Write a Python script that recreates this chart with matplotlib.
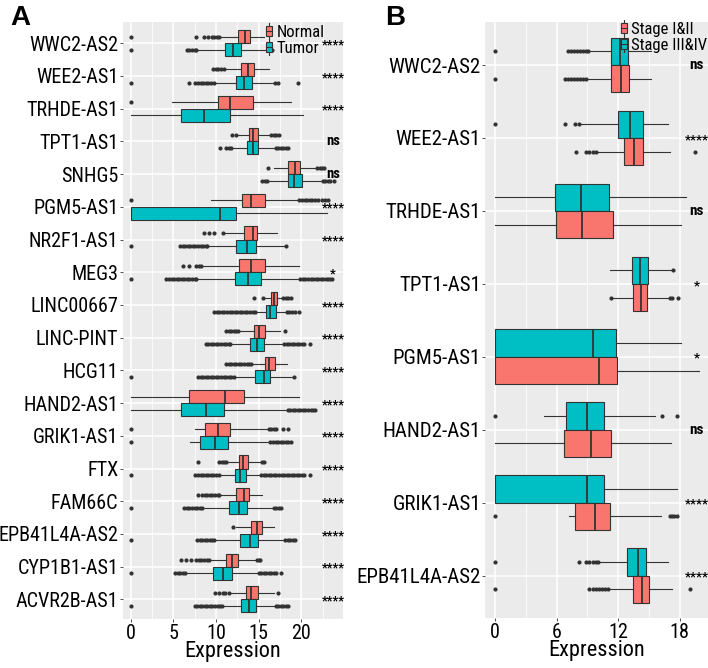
import matplotlib
matplotlib.use('Agg')
import matplotlib.pyplot as plt
import matplotlib.transforms as mtransforms
from matplotlib.legend_handler import HandlerBase
from matplotlib.patches import Rectangle, Patch
from matplotlib.lines import Line2D

plt.rcParams['font.family'] = ['Roboto Condensed', 'DejaVu Sans']

RED = '#F8766D'
TEAL = '#00BFC4'
EDGE = '#333333'
PANEL = '#EBEBEB'

# ---------- panel A: Normal vs Tumor ----------
A_genes = ['WWC2-AS2', 'WEE2-AS1', 'TRHDE-AS1', 'TPT1-AS1', 'SNHG5', 'PGM5-AS1',
           'NR2F1-AS1', 'MEG3', 'LINC00667', 'LINC-PINT', 'HCG11', 'HAND2-AS1',
           'GRIK1-AS1', 'FTX', 'FAM66C', 'EPB41L4A-AS2', 'CYP1B1-AS1', 'ACVR2B-AS1']
A_sig = ['****', '****', '****', 'ns', 'ns', '****', '****', '*', '****', '****',
         '****', '****', '****', '****', '****', '****', '****', '****']

A_normal_q1 = [12.6, 13.0, 10.2, 13.9, 18.5, 13.1, 13.3, 12.7, 16.5, 14.5, 15.7, 6.8, 8.7, 12.7, 12.3, 14.1, 11.2, 13.5]
A_normal_med = [13.4, 13.8, 11.7, 14.4, 19.3, 14.1, 14.4, 14.1, 16.8, 15.0, 16.2, 11.1, 10.3, 13.2, 13.3, 14.8, 11.9, 14.1]
A_normal_q3 = [14.0, 14.5, 14.3, 14.9, 19.9, 15.7, 14.8, 15.7, 17.2, 15.7, 16.9, 13.3, 11.7, 13.8, 13.9, 15.35, 12.6, 14.9]
A_normal_lo = [10.5, 11.1, 4.9, 12.4, 16.8, 9.4, 11.0, 8.4, 15.6, 12.7, 14.2, 0.0, 7.5, 11.3, 10.5, 12.3, 9.3, 11.6]
A_normal_hi = [15.6, 16.2, 18.8, 16.4, 21.8, 19.7, 17.2, 19.7, 17.75, 17.5, 18.3, 19.7, 16.1, 15.2, 15.4, 16.8, 14.65, 16.8]
A_normal_out = [
    [0, 7.7, 8.6, 9.1, 9.5, 9.8, 10.1, 10.4],
    [9.7, 10.0, 10.3, 10.6, 11.0],
    [0],
    [11.9, 12.3, 16.5, 16.8, 17.1, 17.4],
    [16.1, 21.9, 22.2, 22.4, 22.7],
    [0, 19.8, 20.1, 20.4, 20.7, 21.0, 21.3, 21.6, 22.0, 22.4, 22.8, 23.2],
    [8.6, 9.2, 9.8, 10.8],
    [6.2, 6.8, 7.7, 8.0, 8.3],
    [14.5, 15.5, 17.9, 18.2, 18.5, 18.8],
    [11.2, 11.5, 11.8, 12.1, 12.4, 12.6, 18.1],
    [11.2, 11.5, 11.8, 12.1, 12.4, 12.7, 13.0, 13.3, 13.6, 13.9, 14.1],
    [],
    [0, 16.2, 16.5, 16.8, 17.0, 17.9, 18.4],
    [7.9, 10.4, 10.7, 11.0, 11.2, 15.4, 15.6],
    [7.9, 8.4, 8.7, 9.0, 9.3, 9.6, 9.9, 10.2, 10.4],
    [12.0],
    [5.9, 6.5, 7.1, 7.7, 8.0, 8.3, 8.6, 8.9, 9.2, 14.8, 15.0, 15.2],
    [9.9, 10.4, 10.8, 11.1, 11.5, 17.3],
]

A_tumor_q1 = [11.05, 12.4, 5.85, 13.7, 18.4, 0.0, 12.3, 12.2, 15.9, 14.0, 14.6, 5.9, 8.1, 12.2, 11.5, 12.8, 9.7, 13.0]
A_tumor_med = [12.0, 13.3, 8.6, 14.3, 19.2, 10.5, 13.6, 13.8, 16.3, 14.8, 15.6, 8.8, 9.9, 12.8, 12.7, 13.95, 10.8, 13.9]
A_tumor_q3 = [13.0, 14.2, 11.6, 14.9, 20.1, 12.3, 14.65, 15.3, 17.0, 15.6, 16.3, 11.0, 11.4, 13.5, 13.6, 14.9, 11.9, 14.65]
A_tumor_lo = [7.8, 9.9, 0.0, 11.9, 16.1, 0.0, 9.1, 7.8, 14.7, 11.8, 12.2, 0.0, 7.0, 10.5, 8.5, 9.9, 6.5, 10.8]
A_tumor_hi = [16.0, 16.8, 20.2, 16.9, 22.4, 23.0, 18.1, 19.8, 18.2, 17.9, 19.1, 18.3, 16.3, 15.2, 16.7, 18.0, 14.9, 16.9]
A_tumor_out = [
    [0, 6.6, 6.9, 7.2, 7.5, 7.7, 16.1, 16.3, 16.6],
    [0, 6.9, 7.6, 7.9, 8.2, 8.5, 8.8, 9.1, 9.4, 9.8, 16.9, 17.3, 19.6],
    [],
    [10.5, 11.2, 11.5, 11.8, 17.0, 17.3, 17.6, 17.9, 18.2, 18.5],
    [15.4, 15.7, 16.0, 22.5, 22.8, 23.1, 23.4, 23.8],
    [],
    [0, 5.8, 6.1, 6.4, 6.7, 7.0, 7.3, 7.6, 7.9, 8.2, 8.5, 8.8, 9.0, 18.2],
    [0, 4.2, 4.5, 4.8, 5.1, 5.4, 5.7, 6.0, 6.3, 6.6, 6.9, 7.2, 7.5, 7.7,
     19.9, 20.2, 20.5, 20.8, 21.1, 21.4, 21.7, 22.0, 22.3, 22.6, 22.9, 23.2, 23.4, 23.6],
    [9.8, 10.1, 10.4, 10.7, 11.0, 11.3, 11.6, 11.9, 12.2, 12.5, 12.8, 13.1, 13.4, 13.7,
     14.0, 14.3, 14.6, 18.3, 18.6, 18.9, 19.3, 19.8],
    [8.8, 9.1, 9.4, 9.7, 10.0, 10.3, 10.6, 10.9, 11.2, 11.5, 11.7,
     18.0, 18.3, 18.6, 18.9, 19.2, 19.5, 19.8, 20.1, 20.3, 21.0],
    [0, 7.9, 8.2, 8.5, 8.8, 9.1, 9.4, 9.7, 10.0, 10.3, 10.6, 10.9, 11.2, 11.5, 11.8, 12.1, 19.2],
    [18.4, 18.7, 19.0, 19.3, 19.6, 19.9, 20.2, 20.5, 20.8, 21.1, 21.4, 21.6],
    [0, 16.4, 16.7, 17.0, 17.3, 17.6, 17.9, 18.2, 18.5, 18.8],
    [0, 7.5, 7.9, 8.2, 8.5, 8.8, 9.1, 9.4, 9.7, 10.0, 10.4,
     15.3, 15.6, 15.9, 16.2, 16.5, 16.8, 17.1, 17.4, 17.7, 18.0, 18.3, 18.6, 18.9,
     19.2, 19.5, 19.8, 20.1, 20.3, 21.0],
    [0, 6.3, 6.6, 6.9, 7.2, 7.5, 7.8, 8.1, 8.4, 16.8, 17.1, 17.4, 17.6],
    [0, 7.8, 8.1, 8.4, 8.7, 9.0, 9.3, 9.6, 9.8, 18.1, 18.4, 18.7, 19.0, 19.3],
    [0, 5.2, 5.5, 5.8, 6.1, 6.4, 15.0, 15.3, 15.6, 15.9, 16.2, 16.5, 16.8, 17.0, 17.6],
    [0, 7.5, 7.8, 8.1, 8.4, 8.7, 9.0, 9.3, 9.6, 9.9, 10.2, 10.5, 10.7,
     17.0, 17.3, 17.6, 17.9, 18.2, 18.5],
]

# ---------- panel B: Stage I&II vs Stage III&IV ----------
B_genes = ['WWC2-AS2', 'WEE2-AS1', 'TRHDE-AS1', 'TPT1-AS1', 'PGM5-AS1',
           'HAND2-AS1', 'GRIK1-AS1', 'EPB41L4A-AS2']
B_sig = ['ns', '****', 'ns', '*', '*', 'ns', '****', '****']

B_early_q1 = [11.35, 12.55, 5.9, 13.45, 0.0, 6.75, 7.8, 13.4]
B_early_med = [12.3, 13.5, 8.5, 14.2, 10.1, 9.4, 9.7, 14.3]
B_early_q3 = [13.1, 14.4, 11.5, 14.85, 11.9, 11.35, 11.25, 15.0]
B_early_lo = [9.0, 9.9, 0.0, 11.4, 0.0, 0.0, 7.2, 11.1]
B_early_hi = [15.2, 17.0, 18.1, 16.95, 19.85, 17.1, 16.2, 17.2]
B_early_out = [
    [0, 6.8, 7.1, 7.4, 7.7, 8.0, 8.3, 8.6, 8.9],
    [7.9, 8.9, 9.2, 9.5, 9.8, 19.5],
    [],
    [11.3, 17.05, 17.25, 17.8],
    [],
    [],
    [0, 17.0, 17.2, 17.4, 17.7],
    [0, 9.2, 9.5, 9.8, 10.1, 10.4, 10.7, 11.0, 19.0],
]

B_late_q1 = [11.35, 12.0, 5.8, 13.3, 0.0, 6.9, 0.0, 12.9]
B_late_med = [12.2, 13.2, 8.4, 14.1, 9.55, 9.0, 9.0, 13.95]
B_late_q3 = [13.0, 14.4, 11.1, 14.9, 11.75, 10.6, 10.6, 14.75]
B_late_lo = [9.2, 8.3, 0.0, 11.25, 0.0, 4.8, 0.0, 10.1]
B_late_hi = [15.2, 16.9, 18.6, 17.3, 18.15, 15.6, 17.7, 16.9]
B_late_out = [
    [0, 7.1, 7.4, 7.7, 8.0, 8.3, 8.6, 8.9, 9.1],
    [0, 6.8, 7.8, 8.2],
    [],
    [17.35],
    [],
    [0, 16.3, 17.7],
    [],
    [0, 8.2, 8.9, 9.2, 9.5, 9.8, 10.05],
]


def draw_boxes(ax, pos, q1, med, q3, lo, hi, out, color, width):
    stats = []
    for a, m, b, l, h, f in zip(q1, med, q3, lo, hi, out):
        stats.append(dict(q1=a, med=m, q3=b, whislo=l, whishi=h, fliers=f))
    ax.bxp(stats, positions=pos, widths=width, orientation='horizontal',
           patch_artist=True, showcaps=False, manage_ticks=False,
           boxprops=dict(facecolor=color, edgecolor=EDGE, linewidth=0.8),
           medianprops=dict(color=EDGE, linewidth=1.3),
           whiskerprops=dict(color=EDGE, linewidth=0.8),
           flierprops=dict(marker='o', markersize=3, markerfacecolor=EDGE,
                           markeredgecolor='none'))


class BoxKey(HandlerBase):
    def create_artists(self, legend, orig_handle, xdescent, ydescent,
                       width, height, fontsize, trans):
        x0, y0 = -xdescent, -ydescent
        cx = x0 + width / 2
        bw = width * 0.75
        box = Rectangle((cx - bw / 2, y0 + height * 0.1), bw, height * 0.8,
                        facecolor=orig_handle.get_facecolor(), edgecolor=EDGE,
                        linewidth=0.8, transform=trans)
        mid = Line2D([cx - bw / 2, cx + bw / 2], [y0 + height / 2] * 2,
                     color=EDGE, linewidth=0.8, transform=trans)
        w1 = Line2D([cx, cx], [y0 - height * 0.15, y0 + height * 0.1],
                    color=EDGE, linewidth=0.8, transform=trans)
        w2 = Line2D([cx, cx], [y0 + height * 0.9, y0 + height * 1.15],
                    color=EDGE, linewidth=0.8, transform=trans)
        return [w1, w2, box, mid]


def style_axes(ax, genes, xmajor, xminor, xlim, ysize):
    ax.set_facecolor(PANEL)
    for s in ax.spines.values():
        s.set_visible(False)
    ax.set_axisbelow(True)
    ax.set_xlim(*xlim)
    ax.set_xticks(xmajor)
    ax.set_xticks(xminor, minor=True)
    ax.set_yticks(range(len(genes)))
    ax.set_yticklabels(genes, fontsize=ysize)
    ax.tick_params(axis='x', labelsize=14.5, pad=1)
    ax.tick_params(which='major', length=2.5, width=0.6, color=EDGE)
    ax.tick_params(axis='y', pad=0.5)
    ax.tick_params(which='minor', length=0)
    ax.grid(which='major', color='white', linewidth=1.1)
    ax.grid(which='minor', axis='x', color='white', linewidth=0.55)
    ax.set_xlabel('Expression', fontsize=16, labelpad=-1)


def add_sig(ax, labels, xfrac, star_size, ns_size):
    tr = mtransforms.blended_transform_factory(ax.transAxes, ax.transData)
    for i, s in enumerate(labels):
        is_star = s.startswith('*')
        ax.text(xfrac, i, s, transform=tr, ha='center',
                va='center_baseline' if is_star else 'center',
                fontsize=star_size if is_star else ns_size, fontweight='bold')


fig = plt.figure(figsize=(7.08, 6.68), dpi=100)

# panel A
axA = fig.add_axes([122.5 / 708, 49 / 668, 220.5 / 708, 597 / 668])
nA = len(A_genes)
draw_boxes(axA, [i - 0.2 for i in range(nA)], A_normal_q1, A_normal_med, A_normal_q3,
           A_normal_lo, A_normal_hi, A_normal_out, RED, 0.4)
draw_boxes(axA, [i + 0.2 for i in range(nA)], A_tumor_q1, A_tumor_med, A_tumor_q3,
           A_tumor_lo, A_tumor_hi, A_tumor_out, TEAL, 0.4)
style_axes(axA, A_genes, [0, 5, 10, 15, 20], [2.5, 7.5, 12.5, 17.5, 22.5], (-0.95, 24.9), 14.5)
axA.set_ylim(nA - 0.4, -0.65)
add_sig(axA, A_sig, 0.955, 9, 10.5)
axA.legend(handles=[Patch(facecolor=RED), Patch(facecolor=TEAL)],
           labels=['Normal', 'Tumor'], handler_map={Patch: BoxKey()},
           loc='upper right', bbox_to_anchor=(0.915, 0.995), frameon=False,
           fontsize=12, handlelength=0.45, handleheight=0.75, handletextpad=0.2,
           labelspacing=0.05, borderpad=0, borderaxespad=0)

# panel B
axB = fig.add_axes([485 / 708, 50 / 668, 222.5 / 708, 596 / 668])
nB = len(B_genes)
draw_boxes(axB, [i - 0.1875 for i in range(nB)], B_late_q1, B_late_med, B_late_q3,
           B_late_lo, B_late_hi, B_late_out, TEAL, 0.375)
draw_boxes(axB, [i + 0.1875 for i in range(nB)], B_early_q1, B_early_med, B_early_q3,
           B_early_lo, B_early_hi, B_early_out, RED, 0.375)
style_axes(axB, B_genes, [0, 6, 12, 18], [3, 9, 15], (-0.97, 20.7), 15)
axB.set_ylim(nB - 0.42, -0.59)
add_sig(axB, B_sig, 0.95, 9.5, 11)
axB.legend(handles=[Patch(facecolor=RED), Patch(facecolor=TEAL)],
           labels=['Stage I&II', 'Stage III&IV'], handler_map={Patch: BoxKey()},
           loc='upper right', bbox_to_anchor=(1.0, 1.0), frameon=False,
           fontsize=12, handlelength=0.45, handleheight=0.75, handletextpad=0.2,
           labelspacing=0.05, borderpad=0, borderaxespad=0)

fig.text(10 / 708, 1 - 5 / 668, 'A', ha='left', va='top', fontsize=20,
         fontweight='bold', family=['Liberation Sans', 'DejaVu Sans'])
fig.text(385 / 708, 1 - 5 / 668, 'B', ha='left', va='top', fontsize=20,
         fontweight='bold', family=['Liberation Sans', 'DejaVu Sans'])

fig.savefig('out.png', dpi=100)
